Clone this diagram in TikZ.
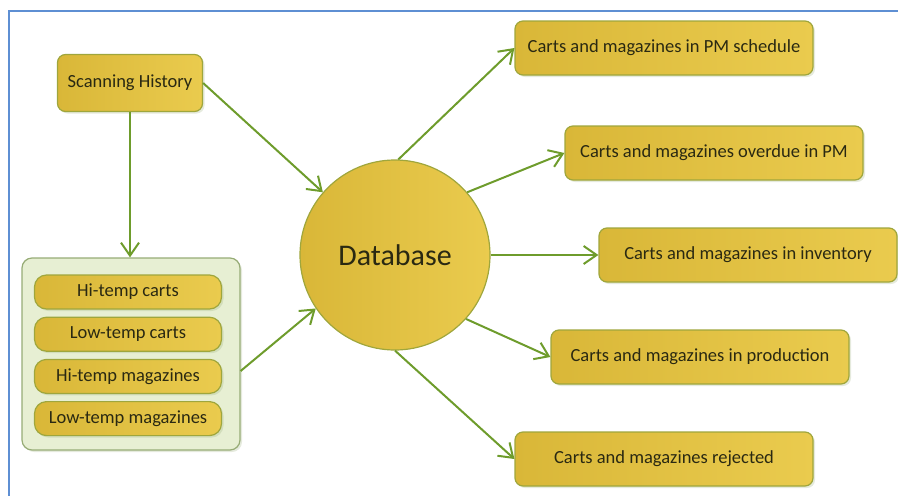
\documentclass[tikz,border=0pt]{standalone}
\usepackage{fontspec}
\setmainfont{Carlito}
\usepackage{xcolor}
\usepackage{tikz}
\usetikzlibrary{positioning, arrows.meta, shadows}

\definecolor{goldA}{HTML}{D9B738}
\definecolor{goldB}{HTML}{EACB4E}
\definecolor{goldline}{HTML}{9FA63C}
\definecolor{arrowgreen}{HTML}{6E9C2C}
\definecolor{grpfill}{HTML}{E7EFD3}
\definecolor{grpline}{HTML}{97AC76}
\definecolor{inkdark}{HTML}{2A2912}
\definecolor{frameblue}{HTML}{5E8FD3}

\tikzset{
    goldbox/.style={draw=goldline, line width=1.2pt, left color=goldA, right color=goldB,
        rounded corners=8pt, text=inkdark, font=\fontsize{18.5}{20}\selectfont,
        drop shadow={shadow xshift=2pt, shadow yshift=-2pt, opacity=0.25, fill=grpline}},
    outbox/.style={goldbox, minimum width=298pt, minimum height=54pt},
    pill/.style={goldbox, rounded corners=12pt, minimum width=187pt, minimum height=34pt},
    flow/.style={->, draw=arrowgreen, line width=2pt}
}

\begin{document}
\begin{tikzpicture}[x=1pt, y=-1pt, >={Straight Barb[length=13pt, width=18pt]}]
    \useasboundingbox (0,0) rectangle (898,496);
    % Khung
    \draw[frameblue, line width=1.5pt] (898,11) -- (9,11) -- (9,496);

    % Nguồn dữ liệu
    \node[goldbox, minimum width=145pt, minimum height=57pt] (scan) at (130,83) {Scanning History};
    \node[draw=grpline, fill=grpfill, line width=1.2pt, rounded corners=10pt,
          minimum width=218pt, minimum height=192pt,
          drop shadow={shadow xshift=2pt, shadow yshift=-2pt, opacity=0.25, fill=grpline}] (grp) at (131,354) {};
    \node[pill] (hicart) at (128,292) {Hi-temp carts};
    \node[pill, below=7pt of hicart] (locart) {Low-temp carts};
    \node[pill, below=7pt of locart] (himag) {Hi-temp magazines};
    \node[pill, below=7pt of himag] (lomag) {Low-temp magazines};

    % Cơ sở dữ liệu
    \node[circle, draw=goldline, line width=1.2pt, left color=goldA, right color=goldB,
          minimum size=190pt, text=inkdark, font=\fontsize{30}{32}\selectfont] (db) at (395,255) {Database};

    % Kết quả
    \node[outbox] (pmsched) at (664,48) {Carts and magazines in PM schedule};
    \node[outbox] (pmdue) at (714,153) {Carts and magazines overdue in PM};
    \node[outbox] (invent) at (748,255) {Carts and magazines in inventory};
    \node[outbox] (prod) at (700,357) {Carts and magazines in production};
    \node[outbox] (reject) at (664,459) {Carts and magazines rejected};

    % Mũi tên
    \draw[flow] (scan.south) -- (scan.south |- grp.north);
    \draw[flow] (scan.east) -- (db.139);
    \draw[flow] ([yshift=-17pt]grp.east) -- (db.214);
    \draw[flow] (db.88) -- (pmsched.west);
    \draw[flow] (db.41) -- (pmdue.west);
    \draw[flow] (db.east) -- (invent.west);
    \draw[flow] (db.-42) -- (prod.west);
    \draw[flow] (db.-90) -- (reject.west);
\end{tikzpicture}
\end{document}
